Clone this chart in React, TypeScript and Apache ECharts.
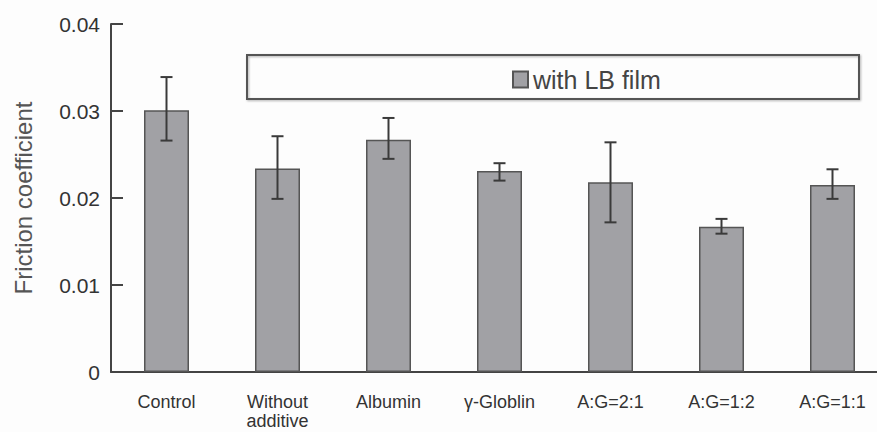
import React, { useEffect, useRef } from "react";
import * as echarts from "echarts";

const categories = ["Control", "Without\nadditive", "Albumin", "γ-Globlin", "A:G=2:1", "A:G=1:2", "A:G=1:1"];
const means = [0.0301, 0.0234, 0.0267, 0.0231, 0.0218, 0.0167, 0.0215];
const errLow = [0.0266, 0.0199, 0.0245, 0.022, 0.0172, 0.0159, 0.0199];
const errHigh = [0.0339, 0.0271, 0.0292, 0.024, 0.0264, 0.0176, 0.0233];
const yTicks = { min: 0, max: 0.04, interval: 0.01 };
const seriesName = "with LB film";
const axisName = "Friction coefficient";

const FONT = "'Liberation Sans', Arial, sans-serif";

export default function App() {
  const ref = useRef<HTMLDivElement>(null);
  useEffect(() => {
    if (!ref.current) return;
    const chart = echarts.init(ref.current, null, { renderer: "svg" });
    const errData = categories.map((_, i) => [i, errLow[i], errHigh[i]]);
    chart.setOption({
      animation: false,
      backgroundColor: "#fdfdfd",
      grid: { left: 111, right: -11, top: 24, bottom: 60, outerBoundsMode: "none", containLabel: false },
      legend: {
        data: [seriesName],
        left: 512,
        top: 67,
        padding: 0,
        icon: "rect",
        itemWidth: 15,
        itemHeight: 16,
        textStyle: { fontFamily: FONT, fontSize: 25, color: "#444" },
      },
      graphic: [
        {
          type: "rect",
          shape: { x: 247, y: 55, width: 612, height: 44 },
          style: { fill: "none", stroke: "#555", lineWidth: 2, shadowBlur: 2, shadowColor: "rgba(0,0,0,0.3)", shadowOffsetX: 1, shadowOffsetY: 1 },
          z: 1,
        },
      ],
      xAxis: {
        type: "category",
        data: categories,
        axisLine: { show: true, lineStyle: { color: "#444", width: 2 } },
        axisTick: { show: false },
        axisLabel: { fontFamily: FONT, fontSize: 18, color: "#333", margin: 20, lineHeight: 19, interval: 0 },
      },
      yAxis: {
        type: "value",
        min: yTicks.min,
        max: yTicks.max,
        interval: yTicks.interval,
        name: axisName,
        nameLocation: "middle",
        nameRotate: 90,
        nameGap: 76,
        nameTextStyle: { fontFamily: FONT, fontSize: 24, color: "#555" },
        axisLine: { show: true, lineStyle: { color: "#444", width: 2 } },
        axisTick: { show: true, inside: true, length: 12, lineStyle: { color: "#444", width: 2 } },
        splitLine: { show: false },
        axisLabel: { fontFamily: FONT, fontSize: 21, color: "#333", margin: 11 },
      },
      series: [
        {
          name: seriesName,
          type: "bar",
          data: means,
          barWidth: 45,
          itemStyle: { color: "#a1a1a5", borderColor: "#555", borderWidth: 1.5 },
          z: 2,
        },
        {
          type: "custom",
          name: "error",
          data: errData,
          encode: { x: 0, y: [1, 2] },
          z: 3,
          renderItem: (params: any, api: any) => {
            const x = api.value(0);
            const lo = api.coord([x, api.value(1)]);
            const hi = api.coord([x, api.value(2)]);
            const half = 6;
            const style = { stroke: "#3a3a3a", lineWidth: 2 };
            return {
              type: "group",
              children: [
                { type: "line", shape: { x1: lo[0], y1: lo[1], x2: hi[0], y2: hi[1] }, style },
                { type: "line", shape: { x1: hi[0] - half, y1: hi[1], x2: hi[0] + half, y2: hi[1] }, style },
                { type: "line", shape: { x1: lo[0] - half, y1: lo[1], x2: lo[0] + half, y2: lo[1] }, style },
              ],
            };
          },
        },
      ],
    });
    return () => chart.dispose();
  }, []);
  return <div ref={ref} style={{ position: "fixed", left: 0, top: 0, width: 877, height: 432 }} />;
}
